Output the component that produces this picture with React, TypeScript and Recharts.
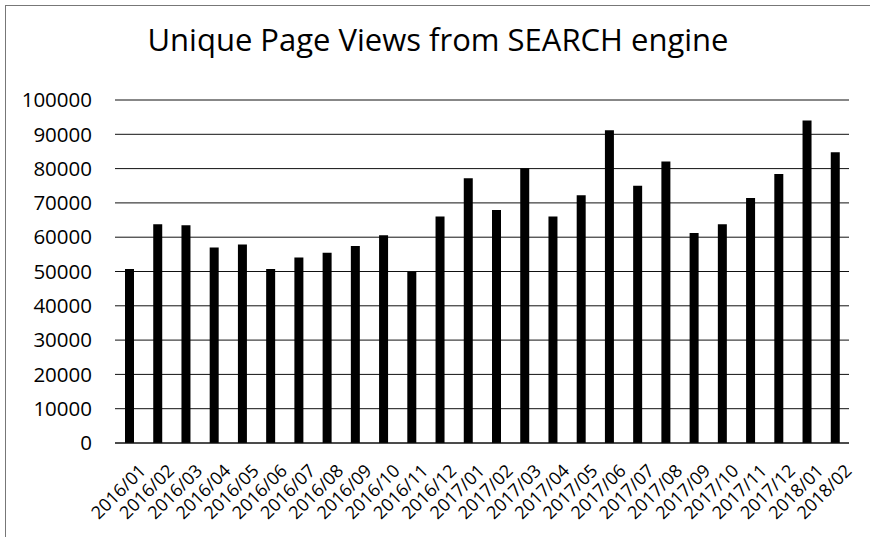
import { Bar, BarChart, CartesianGrid, XAxis, YAxis } from "recharts"

const months = [
  "2016/01", "2016/02", "2016/03", "2016/04", "2016/05", "2016/06", "2016/07",
  "2016/08", "2016/09", "2016/10", "2016/11", "2016/12", "2017/01", "2017/02",
  "2017/03", "2017/04", "2017/05", "2017/06", "2017/07", "2017/08", "2017/09",
  "2017/10", "2017/11", "2017/12", "2018/01", "2018/02",
]

const views = [
  50700, 63800, 63500, 57000, 57900, 50700, 54100, 55500, 57400, 60600, 49900, 66000,
  77200, 67900, 80100, 66000, 72200, 91200, 75000, 82100, 61200, 63800, 71400, 78400,
  94000, 84800,
]

const yTicks = [0, 10000, 20000, 30000, 40000, 50000, 60000, 70000, 80000, 90000, 100000]

const data = months.map((month, i) => ({ month, views: views[i] }))

const font = "'Open Sans', sans-serif"

function MonthTick(props: any) {
  const { x, y, payload } = props
  return (
    <g transform={`translate(${x + 9},${y + 20})`}>
      <text x={0} y={0} dy="0.7em" textAnchor="end" transform="rotate(-45)" fill="#000" fontSize={18} fontFamily={font}>
        {payload.value}
      </text>
    </g>
  )
}

export default function App() {
  return (
    <div style={{ position: "absolute", left: 0, top: 0, width: 870, height: 537, background: "#fff", fontFamily: font }}>
      <div style={{ position: "absolute", left: 5, top: 5, width: 865, height: 532, borderTop: "1px solid #777", borderLeft: "1px solid #777" }} />
      <div style={{ position: "absolute", left: 0, top: 18, width: 876, textAlign: "center", fontSize: 31, color: "#000" }}>
        Unique Page Views from SEARCH engine
      </div>
      <BarChart
        width={870}
        height={537}
        data={data}
        margin={{ top: 100, right: 21, left: 15, bottom: 14 }}
        style={{ position: "absolute", left: 0, top: 0 }}
      >
        <CartesianGrid vertical={false} stroke="#111" strokeWidth={1} />
        <YAxis
          width={100}
          domain={[0, 100000]}
          ticks={yTicks}
          interval={0}
          axisLine={false}
          tickLine={false}
          tickSize={0}
          tickMargin={23}
          tick={{ fill: "#000", fontSize: 20.5, fontFamily: font }}
        />
        <XAxis
          dataKey="month"
          height={80}
          interval={0}
          axisLine={{ stroke: "#111" }}
          tickLine={false}
          tickSize={0}
          tickMargin={0}
          tick={<MonthTick />}
        />
        <Bar dataKey="views" fill="#000" barSize={9} isAnimationActive={false} />
      </BarChart>
    </div>
  )
}
